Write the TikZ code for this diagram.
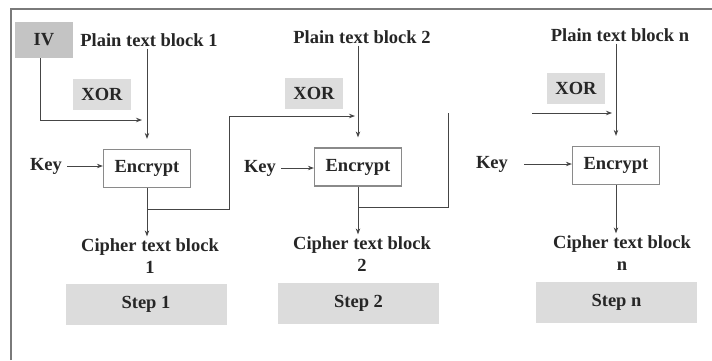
\documentclass[tikz,border=0pt]{standalone}
\usepackage{fontspec}
\setmainfont{Liberation Serif}
\usetikzlibrary{arrows.meta}
\definecolor{ivgray}{HTML}{C4C4C4}
\definecolor{xorgray}{HTML}{DDDDDD}
\definecolor{stepgray}{HTML}{DCDCDC}
\definecolor{linegray}{HTML}{454545}
\definecolor{boxgray}{HTML}{8A8A8A}
\definecolor{framegray}{HTML}{7A7A7A}
\tikzset{
  txt/.style={font=\fontsize{18.5}{22}\selectfont\bfseries, text=black!85, inner sep=2pt, align=center},
  ivbox/.style={txt, fill=ivgray, minimum width=58pt, minimum height=36pt},
  xorbox/.style={txt, fill=xorgray, minimum width=58pt, minimum height=31pt},
  encbox/.style={txt, draw=boxgray, line width=1.2pt, fill=white, minimum width=87pt, minimum height=38pt},
  stepbox/.style={txt, fill=stepgray, minimum width=161pt, minimum height=41pt},
  conn/.style={draw=linegray, line width=0.9pt},
  arr/.style={conn, -{Stealth[length=6pt,width=4.5pt]}},
  frameline/.style={draw=framegray, line width=1.6pt}
}
\begin{document}
\begin{tikzpicture}[x=1pt,y=-1pt]
\useasboundingbox (0,0) rectangle (712,360);
% frame
\coordinate (fa) at (11,360);
\coordinate (fb) at (11,9);
\coordinate (fc) at (712,9);
\draw[frameline] (fa) -- (fb) -- (fc);

% ---------- block 1 ----------
\node[ivbox] (iv) at (44,40) {IV};
\node[txt] (p1) at (149,40) {Plain text block 1};
\node[xorbox] (xor1) at (102,94) {XOR};
\node[encbox] (enc1) at (147,168.5) {Encrypt};
\node[txt] (key1) at (46,166) {Key};
\node[txt] (c1) at (150,256) {Cipher text block\\1};
\node[stepbox] (s1) at (146,304.5) {Step 1};
\coordinate (j1) at (147,120);
\coordinate (f1) at (147,209);
\coordinate (t1) at (229,116);

\draw[arr, shorten >=10pt] (p1.south -| enc1.north) -- (enc1.north);
\draw[arr, shorten >=5pt] ([xshift=-4pt]iv.south) |- (j1);
\draw[arr, shorten <=3pt] (key1.east) -- (key1.east -| enc1.west);
\draw[arr] (enc1.south) -- (enc1.south |- c1.north);

% ---------- block 2 ----------
\node[txt] (p2) at (362,37) {Plain text block 2};
\node[xorbox] (xor2) at (314,93.5) {XOR};
\node[encbox] (enc2) at (358,167) {Encrypt};
\node[txt] (key2) at (260,168) {Key};
\node[txt] (c2) at (362,254) {Cipher text block\\2};
\node[stepbox] (s2) at (358.5,303.5) {Step 2};
\coordinate (j2) at (358,116);
\coordinate (f2) at (358,207);
\coordinate (t2) at (448,113);

\draw[conn] (f1) -| (t1);
\draw[arr, shorten >=3pt] (t1) -- (j2);
\draw[arr, shorten >=10pt] (p2.south -| enc2.north) -- (enc2.north);
\draw[arr, shorten <=3pt] (key2.east) -- (key2.east -| enc2.west);
\draw[arr] (enc2.south) -- (enc2.south |- c2.north);
\draw[conn] (f2) -| (t2);

% ---------- block n ----------
\node[txt] (pn) at (620,35) {Plain text block n};
\node[xorbox] (xorn) at (576,88.5) {XOR};
\node[encbox] (encn) at (616,165.5) {Encrypt};
\node[txt] (keyn) at (492,164) {Key};
\node[txt] (cn) at (622,253) {Cipher text block\\n};
\node[stepbox] (sn) at (616.5,302.5) {Step n};
\coordinate (inn) at (532,113);
\coordinate (jn) at (616,113);

\draw[arr, shorten >=10pt] (pn.south -| encn.north) -- (encn.north);
\draw[arr, shorten >=4pt] (inn) -- (jn);
\draw[arr, shorten <=14pt] (keyn.east) -- (keyn.east -| encn.west);
\draw[arr] (encn.south) -- (encn.south |- cn.north);
\end{tikzpicture}
\end{document}
